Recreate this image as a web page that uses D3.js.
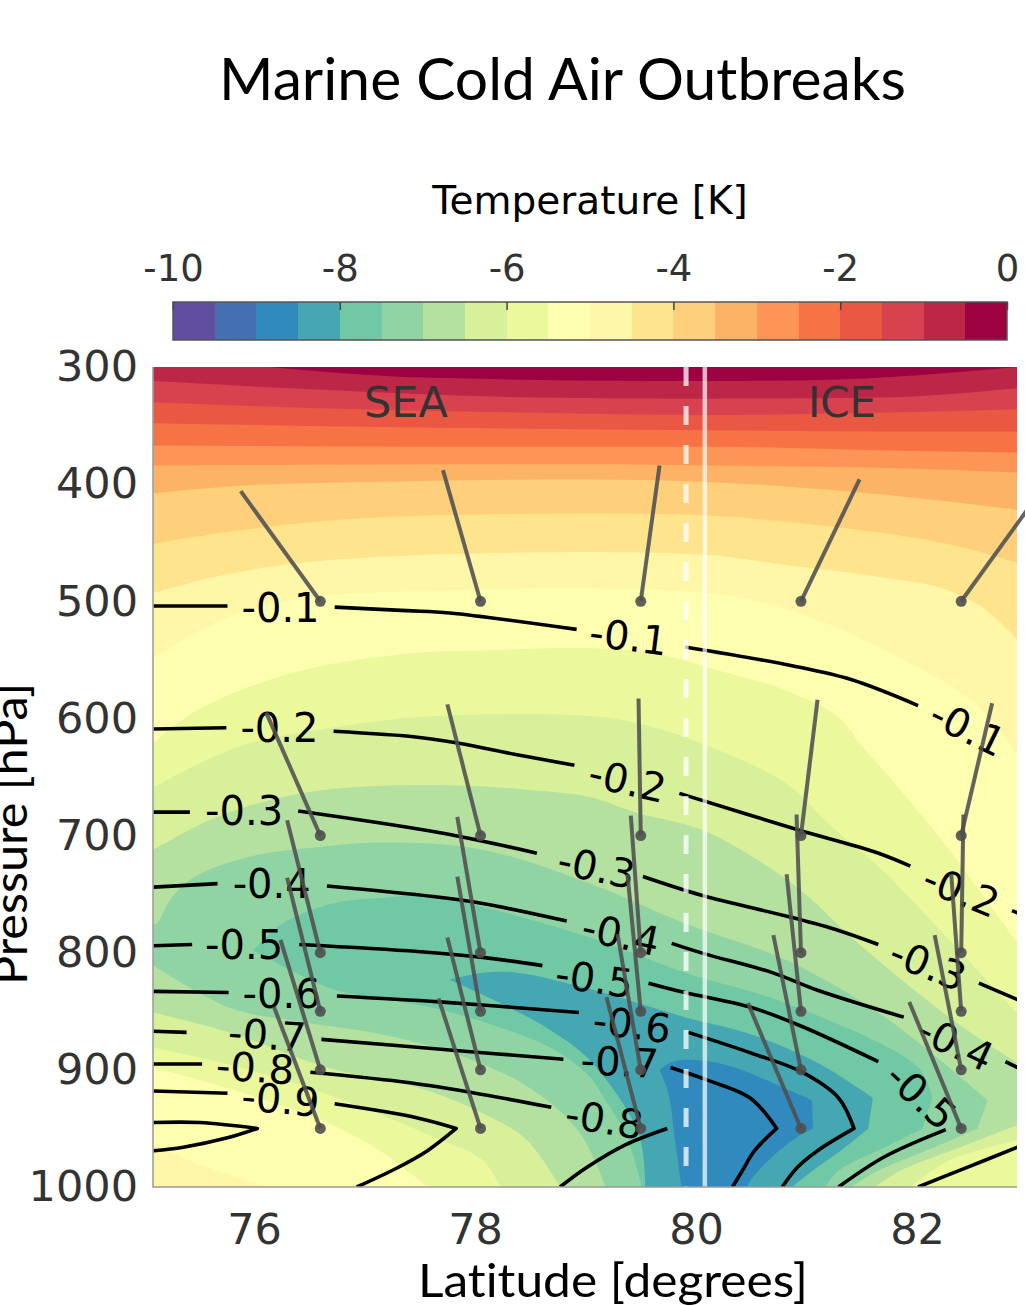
<!DOCTYPE html>
<html>
<head>
<meta charset="utf-8">
<script src="https://cdnjs.cloudflare.com/ajax/libs/d3/7.8.5/d3.min.js"></script>
<style>
body { margin: 0; background: #fff; }
svg { display: block; }
text { font-variant-ligatures: none; }
</style>
</head>
<body>
<div id="chart-area"></div>
<script>
// ticks
var latTicks = [76, 78, 80, 82];
var pressureTicks = [300, 400, 500, 600, 700, 800, 900, 1000];
var tempTicks = [-10, -8, -6, -4, -2, 0];

// colour bar, one colour per 0.5 K from -10 to 0
var bandColors = ["#604ea0", "#4470b1", "#318abd", "#44a7b1", "#70c8a5", "#90d4a3", "#b4e1a0", "#d8f09a", "#ebf89c", "#fdfeb0",
    "#fff6a8", "#fee48d", "#fed07b", "#fdb365", "#fc9555", "#f77346", "#ea5742", "#d8424e", "#bc2748", "#9e0142"];

// warm bands: lower edge of each, [lat, pressure]
var edgeM45 = [[75.09,493],[75.51,482],[76.26,469],[77.17,462],[78.07,459],[79.04,458],[80.05,460],[80.81,469],[81.71,480],[82.32,492],[82.62,507],[82.91,533]];
var edgeM40 = [[75.09,451],[75.67,442],[76.57,432],[77.48,427],[79.04,425],[79.90,426],[80.81,432],[81.71,442],[82.32,452],[82.91,467]];
var edgeM35 = [[75.09,408],[75.96,401],[77.17,398],[79.04,396],[80.05,398],[80.81,402],[81.71,409],[82.91,422]];
var edgeM30 = [[75.09,384],[79.04,383],[80.05,384],[81.67,386],[82.91,390]];
var edgeM25 = [[75.09,367],[77.54,368],[80.08,368],[81.64,371],[82.91,373]];
var edgeM20 = [[75.09,348],[77.02,351],[80.08,354],[81.64,355],[82.91,355]];
var edgeM15 = [[75.09,330],[76.51,335],[78.56,339],[80.08,341],[81.64,339],[82.91,336]];
var edgeM10 = [[75.09,312],[76.76,320],[78.56,326],[80.08,327],[81.64,326],[82.91,318]];
var edgeM05 = [[76.14,300],[77.54,309],[79.90,312],[81.12,311],[82.91,300]];

// cold bands: closed outlines, outermost first. a repeated point keeps a sharp tip
var bandM55 = [[75.09,548],[75.51,525],[75.96,507],[76.57,496],[78.07,490],[79.13,489],[80.35,496],[81.10,516],[81.71,542],[82.46,582],[82.75,610],[82.91,631],[82.91,1000],[76.14,1000],[75.51,981],[75.09,964]];
var bandM60 = [[75.09,621],[75.45,595],[75.96,573],[76.57,556],[77.48,544],[78.07,542],[79.04,540],[79.60,544],[80.20,559],[80.81,576],[81.29,599],[81.48,621],[81.85,661],[82.24,706],[82.91,792],[82.91,1000],[77.57,1000],[77.17,971],[76.66,945],[75.81,917],[75.09,898]];
var bandM65 = [[75.09,659],[75.45,641],[75.96,621],[76.57,610],[77.48,599],[79.04,598],[79.60,607],[80.20,627],[80.81,655],[81.21,691],[81.67,728],[82.30,790],[82.91,852],[82.91,960],[82.30,977],[81.94,1000],[78.23,1000],[78.07,977],[77.62,957],[76.87,928],[75.96,900],[75.09,881]];
var bandM70 = [[75.09,712],[75.36,698],[75.67,684],[76.26,667],[76.87,659],[77.77,657],[78.50,661],[79.04,667],[79.45,680],[80.05,695],[80.51,718],[80.94,746],[81.48,793],[82.39,862],[82.91,894],[82.91,947],[82.39,966],[81.85,986],[81.62,1000],[78.77,1000],[78.47,960],[78.07,937],[77.48,915],[76.66,898],[75.81,869],[75.09,851]];
var bandM75 = [[75.09,775],[75.12,775],[75.24,755],[75.45,736],[75.96,718],[76.57,710],[77.17,706],[78.07,712],[79.04,741],[79.90,775],[80.81,806],[81.71,855],[82.64,926],[82.64,926],[82.55,950],[82.55,950],[82.16,966],[81.65,986],[81.41,1000],[79.18,1000],[78.95,954],[78.52,917],[77.93,890],[77.17,870],[76.42,859],[75.78,847],[75.09,811]];
var bandM80 = [[75.99,798],[75.99,798],[76.26,775],[76.71,758],[77.17,753],[77.62,752],[78.07,761],[79.04,787],[79.90,817],[80.81,843],[82.01,898],[82.14,924],[82.14,924],[82.05,950],[82.05,950],[81.71,966],[81.29,986],[81.17,1000],[79.51,1000],[79.36,954],[79.18,926],[79.04,906],[78.68,881],[78.20,863],[77.62,847],[76.75,832],[76.42,819]];
var bandM85 = [[77.77,823],[77.77,823],[78.07,817],[78.38,817],[79.00,830],[79.90,855],[80.51,870],[81.10,894],[81.60,924],[81.60,924],[81.56,950],[81.56,950],[81.35,966],[81.10,983],[80.87,1000],[79.54,1000],[79.48,954],[79.04,892],[78.68,866],[78.23,843]];
var bandM90 = [[79.67,900],[79.67,900],[79.79,893],[80.05,892],[80.35,898],[80.69,911],[81.05,926],[81.05,926],[81.06,950],[81.06,950],[80.92,957],[80.74,970],[80.51,992],[80.46,1000],[79.87,1000],[79.81,960],[79.75,920]];

// black contours, broken where the labels sit
var contour01 = [[[75.09,504],[75.76,504]], [[76.73,505],[77.38,508],[77.77,510],[78.92,524]], [[79.90,539],[80.87,555],[81.41,567],[82.01,589]]];
var contour02 = [[[75.09,609],[75.75,608]], [[76.72,611],[77.48,616],[77.84,621],[78.38,631],[78.90,640]], [[79.85,664],[80.92,695],[81.62,714],[81.94,726]], [[82.86,764],[82.91,766]]];
var contour03 = [[[75.09,680],[75.42,680]], [[76.40,679],[77.71,698],[78.56,715]], [[79.52,735],[80.05,751],[80.87,770],[81.29,781],[81.65,793]], [[82.56,826],[82.91,840]]];
var contour04 = [[[75.09,744],[75.67,741]], [[76.66,743],[77.62,752],[78.07,758],[78.83,773]], [[79.78,792],[80.08,801],[80.69,817],[81.10,832],[81.88,855]], [[82.80,893],[82.91,898]], [[82.91,966],[82.46,983],[82.01,1000]]];
var contour05 = [[[75.09,794],[75.44,793]], [[76.41,793],[77.48,799],[78.07,804],[78.61,811]], [[79.57,826],[79.90,834],[80.51,847],[80.96,863],[81.65,893]], [[82.26,951],[81.71,974],[81.29,1000]]];
var contour06 = [[[75.09,833],[75.77,834]], [[76.75,837],[77.68,842],[78.94,851]], [[79.93,868],[80.51,886],[80.96,902],[81.29,924],[81.43,950],[81.43,950],[81.10,969],[80.92,983],[80.78,1000]]];
var contour07 = [[[75.09,867],[75.39,868]], [[76.61,874],[77.77,883],[78.80,891]], [[79.77,898],[80.11,909],[80.49,924],[80.73,950],[80.73,950],[80.53,969],[80.42,986],[80.33,1000]]];
var contour08 = [[[75.09,895],[75.53,895]], [[76.51,902],[77.41,911],[78.07,921],[78.69,932]], [[79.74,950],[79.36,964],[79.00,984],[78.77,1000]]];
var contour09 = [[[75.09,918],[75.76,920]], [[76.73,929],[77.48,941],[77.83,950],[77.83,950],[77.57,969],[77.29,984],[76.93,1000]]];
var contour10 = [[[75.09,945],[75.51,945],[76.03,950],[76.03,950],[75.76,958],[75.36,966],[75.09,969]]];

// contour labels
var labelText = ["-0.1","-0.1","-0.1","-0.2","-0.2","-0.2","-0.3","-0.3","-0.3","-0.4","-0.4","-0.4","-0.5","-0.5","-0.5","-0.6","-0.6","-0.7","-0.7","-0.8","-0.8","-0.9"];
var labelLat = [76.24,79.39,82.46,76.23,79.38,82.40,75.91,79.10,82.10,76.16,79.32,82.35,75.91,79.08,82.04,76.25,79.42,76.12,79.31,76.01,79.17,76.24];
var labelPressure = [505,530,608,608,653,747,679,727,810,741,784,877,793,822,922,835,861,870,893,898,942,925];
var labelAngle = [0,7,26,0,13,22,0,12,22,0,12,25,0,8,42,0,7,4,3,4,9,5];

// wind arrows: base at windLats x windLevels, tip read per level
var windLats = [76.6, 78.05, 79.5, 80.95, 82.4];
var windLevels = [500, 700, 800, 850, 900, 950];
var windTipLat = [
    [75.88, 77.71, 79.67, 81.48, 83.02],
    [76.11, 77.75, 79.48, 81.10, 82.68],
    [76.30, 77.84, 79.41, 80.91, 82.42],
    [76.30, 77.84, 79.38, 80.82, 82.31],
    [76.24, 77.75, 79.29, 80.70, 82.16],
    [76.18, 77.67, 79.19, 80.47, 81.93]];
var windTipPressure = [
    [406, 388, 384, 396, 419],
    [595, 588, 583, 584, 587],
    [687, 684, 683, 682, 682],
    [736, 735, 733, 733, 733],
    [789, 787, 784, 785, 785],
    [846, 839, 838, 843, 842]];

var seaIceDashed = 79.91;
var seaIceSolid = 80.08;

var dejavu = '"DejaVu Sans", sans-serif';
var bigFont = "Lato, sans-serif";

var svg = d3.select("#chart-area").append("svg")
    .attr("width", 1025)
    .attr("height", 1306);

var x = d3.scaleLinear().domain([75.086, 82.905]).range([153, 1017]);
var y = d3.scaleLinear().domain([300, 1000]).range([367, 1187]);
var barX = d3.scaleLinear().domain([-10, 0]).range([173, 1007]);

svg.append("clipPath").attr("id", "plot-clip").append("rect")
    .attr("x", 153).attr("y", 367).attr("width", 864).attr("height", 820);

var plot = svg.append("g").attr("clip-path", "url(#plot-clip)");

plot.append("rect")
    .attr("x", 153).attr("y", 367).attr("width", 864).attr("height", 820)
    .attr("fill", bandColors[10]);

// warm layers hang from the top of the plot
var warmLayers = [[11, edgeM45], [12, edgeM40], [13, edgeM35], [14, edgeM30], [15, edgeM25], [16, edgeM20], [17, edgeM15], [18, edgeM10], [19, edgeM05]];
var warmArea = d3.area()
    .x((d)=>{return x(d[0]);})
    .y0(y(300))
    .y1((d)=>{return y(d[1]);})
    .curve(d3.curveMonotoneX);

warmLayers.forEach((layer)=>{
    plot.append("path").attr("d", warmArea(layer[1])).attr("fill", bandColors[layer[0]]);
});

// cold layers nest inside each other
var coldLayers = [[9, bandM55], [8, bandM60], [7, bandM65], [6, bandM70], [5, bandM75], [4, bandM80], [3, bandM85], [2, bandM90]];
var outline = d3.line()
    .x((d)=>{return x(d[0]);})
    .y((d)=>{return y(d[1]);})
    .curve(d3.curveCatmullRomClosed.alpha(0.5));

// points on the plot edge stay corners
var keepCorners = (band)=>{
    return band.flatMap((d)=>{
        var onEdge = d[0] <= 75.09 || d[0] >= 82.91 || d[1] >= 1000;
        return onEdge ? [d, d] : [d];
    });
};

coldLayers.forEach((layer)=>{
    plot.append("path").attr("d", outline(keepCorners(layer[1]))).attr("fill", bandColors[layer[0]]);
});

// contours
var contourLine = d3.line()
    .x((d)=>{return x(d[0]);})
    .y((d)=>{return y(d[1]);})
    .curve(d3.curveCatmullRom.alpha(0.5));

[contour01, contour02, contour03, contour04, contour05, contour06, contour07, contour08, contour09, contour10].forEach((segments)=>{
    segments.forEach((seg)=>{
        plot.append("path")
            .attr("d", contourLine(seg))
            .attr("fill", "none")
            .attr("stroke", "#000")
            .attr("stroke-width", 3.6)
            .attr("stroke-linejoin", "round");
    });
});

// contour labels
labelText.forEach((t, i)=>{
    svg.append("text")
        .attr("transform", "translate(" + x(labelLat[i]) + "," + y(labelPressure[i]) + ") rotate(" + labelAngle[i] + ")")
        .attr("text-anchor", "middle")
        .attr("dy", "0.36em")
        .attr("font-size", 40)
        .attr("fill", "#000")
        .style("font-family", dejavu)
        .text(t);
});

// winds go over the contours and are allowed out of the plot
windLevels.forEach((p, row)=>{
    windLats.forEach((lat, col)=>{
        svg.append("line")
            .attr("x1", x(lat)).attr("y1", y(p))
            .attr("x2", x(windTipLat[row][col])).attr("y2", y(windTipPressure[row][col]))
            .attr("stroke", "#4f4f4f")
            .attr("stroke-opacity", 0.88)
            .attr("stroke-width", 4);
        svg.append("circle")
            .attr("cx", x(lat)).attr("cy", y(p)).attr("r", 5.5)
            .attr("fill", "#4f4f4f")
            .attr("fill-opacity", 0.9);
    });
});

// sea / ice border lines
svg.append("line")
    .attr("x1", x(seaIceDashed)).attr("x2", x(seaIceDashed))
    .attr("y1", y(300)).attr("y2", y(1000))
    .attr("stroke", "#fff").attr("stroke-opacity", 0.75).attr("stroke-width", 5)
    .attr("stroke-dasharray", "19 20");
svg.append("line")
    .attr("x1", x(seaIceSolid)).attr("x2", x(seaIceSolid))
    .attr("y1", y(300)).attr("y2", y(1000))
    .attr("stroke", "#fff").attr("stroke-opacity", 0.7).attr("stroke-width", 4.5);

svg.append("text").attr("x", 406).attr("y", 417).attr("text-anchor", "middle")
    .style("font-family", dejavu).attr("font-size", 43).attr("fill", "#333").text("SEA");
svg.append("text").attr("x", 842).attr("y", 417).attr("text-anchor", "middle")
    .style("font-family", dejavu).attr("font-size", 42).attr("fill", "#333").text("ICE");

// plot frame, left and bottom only
svg.append("path")
    .attr("d", "M153,367V1187H1017")
    .attr("fill", "none").attr("stroke", "#999").attr("stroke-width", 1.5);

// axes
var yAxis = svg.append("g")
    .attr("transform", "translate(153,0)")
    .call(d3.axisLeft(y).tickValues(pressureTicks).tickFormat(String).tickSize(0).tickPadding(15));
var xAxis = svg.append("g")
    .attr("transform", "translate(0,1187)")
    .call(d3.axisBottom(x).tickValues(latTicks).tickFormat(String).tickSize(0).tickPadding(26));
[yAxis, xAxis].forEach((a)=>{
    a.select(".domain").remove();
    a.selectAll("text").attr("font-size", 43).style("font-family", dejavu).attr("fill", "#333");
});

// colour bar
var barStep = 0.5;
svg.selectAll(".bar-cell").data(bandColors).enter().append("rect")
    .attr("class", "bar-cell")
    .attr("x", (d, i)=>{return barX(-10 + i * barStep);})
    .attr("y", 302)
    .attr("width", (d, i)=>{return barX(-10 + (i + 1) * barStep) - barX(-10 + i * barStep);})
    .attr("height", 38)
    .attr("fill", (d)=>{return d;})
    .attr("shape-rendering", "crispEdges");
svg.append("rect")
    .attr("x", 173).attr("y", 302).attr("width", 834).attr("height", 38)
    .attr("fill", "none").attr("stroke", "#555").attr("stroke-width", 1.5);
var barAxis = svg.append("g")
    .attr("transform", "translate(0,302)")
    .call(d3.axisTop(barX).tickValues(tempTicks).tickFormat(String).tickSizeInner(-8).tickSizeOuter(0).tickPadding(21));
barAxis.select(".domain").remove();
barAxis.selectAll("line").attr("stroke", "#444").attr("stroke-width", 1.5);
barAxis.selectAll("text").attr("font-size", 37).style("font-family", dejavu).attr("fill", "#333");

// titles
svg.append("text").attr("x", 590).attr("y", 214).attr("text-anchor", "middle")
    .style("font-family", dejavu).attr("font-size", 39).attr("fill", "#000").text("Temperature [K]");

svg.append("text").attr("x", 219).attr("y", 100)
    .style("font-family", bigFont).attr("font-size", 58).attr("fill", "#000")
    .attr("textLength", 687).attr("lengthAdjust", "spacingAndGlyphs")
    .text("Marine Cold Air Outbreaks");
svg.append("text").attr("x", 418).attr("y", 1297)
    .style("font-family", bigFont).attr("font-size", 47).attr("fill", "#000")
    .attr("textLength", 390).attr("lengthAdjust", "spacingAndGlyphs")
    .text("Latitude [degrees]");
svg.append("text").attr("transform", "translate(27,985) rotate(-90)")
    .style("font-family", bigFont).attr("font-size", 47).attr("fill", "#000")
    .attr("textLength", 302).attr("lengthAdjust", "spacingAndGlyphs")
    .text("Pressure [hPa]");
</script>
</body>
</html>
